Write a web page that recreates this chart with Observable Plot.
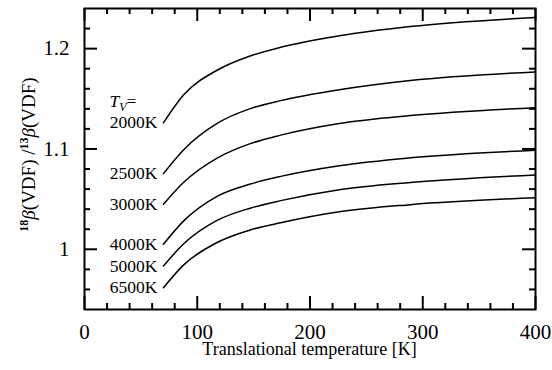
<!DOCTYPE html>
<html><head><meta charset="utf-8">
<script src="https://cdn.jsdelivr.net/npm/d3@7"></script>
<script src="https://cdn.jsdelivr.net/npm/@observablehq/plot@0.6"></script>
<style>body{margin:0;background:#fff} svg{display:block;background:#fff} svg text{font-family:'Liberation Serif','Times New Roman',serif !important}</style>
</head><body><div id="chart"></div>
<script>
// Translational temperature [K]
const temps = [70, 88, 118, 147, 174, 226, 289, 400];
// Vibrational temperature labels
const seriesLabels = ["2000K", "2500K", "3000K", "4000K", "5000K", "6500K"];
// Ratio 18β(VDF)/13β(VDF) per vibrational temperature
const tv2000 = [1.126, 1.154, 1.1787, 1.1927, 1.2014, 1.2128, 1.222, 1.231];
const tv2500 = [1.0754, 1.0993, 1.1257, 1.1402, 1.1482, 1.159, 1.1682, 1.1768];
const tv3000 = [1.0449, 1.0668, 1.0911, 1.1053, 1.1138, 1.1254, 1.1333, 1.1412];
const tv4000 = [1.005, 1.0283, 1.053, 1.065, 1.0727, 1.0833, 1.0912, 1.0987];
const tv5000 = [0.9834, 1.0055, 1.029, 1.041, 1.0485, 1.0594, 1.0666, 1.0741];
const tv6500 = [0.9617, 0.9845, 1.007, 1.0193, 1.0265, 1.0374, 1.0445, 1.0514];
// Axis ticks
const xTicks = [0, 100, 200, 300, 400];
const xTickLabels = ["0", "100", "200", "300", "400"];
const xMinorTicks = [20, 40, 60, 80, 120, 140, 160, 180, 220, 240, 260, 280, 320, 340, 360, 380];
const yTicks = [1, 1.1, 1.2];
const yTickLabels = ["1", "1.1", "1.2"];
const yMinorTicks = [0.96, 0.98, 1.02, 1.04, 1.06, 1.08, 1.12, 1.14, 1.16, 1.18, 1.22];
const xLabel = "Translational temperature [K]";

const seriesValues = [tv2000, tv2500, tv3000, tv4000, tv5000, tv6500];
const rows = seriesLabels.flatMap((s, i) => temps.map((T, j) => ({series: s, T, r: seriesValues[i][j]})));
const starts = seriesLabels.map((s, i) => ({series: s, T: temps[0], r: seriesValues[i][0]}));

const W = 552, H = 370, mL = 84, mR = 17, mT = 8, mB = 61;
const pw = W - mL - mR, ph = H - mT - mB;
const majorLen = 13, minorLen = 6;
const font = "Liberation Serif";

const chart = Plot.plot({
  width: W, height: H,
  marginLeft: mL, marginRight: mR, marginTop: mT, marginBottom: mB,
  style: {fontFamily: font, background: "#fff", color: "#000"},
  x: {domain: [0, 400], axis: null},
  y: {domain: [0.94, 1.24], axis: null},
  marks: [
    // inward ticks on all four sides
    Plot.tickX(xTicks, {x: d => d, insetTop: ph - majorLen, stroke: "#000", strokeWidth: 2}),
    Plot.tickX(xTicks, {x: d => d, insetBottom: ph - majorLen, stroke: "#000", strokeWidth: 2}),
    Plot.tickX(xMinorTicks, {x: d => d, insetTop: ph - minorLen, stroke: "#000", strokeWidth: 2}),
    Plot.tickX(xMinorTicks, {x: d => d, insetBottom: ph - minorLen, stroke: "#000", strokeWidth: 2}),
    Plot.tickY(yTicks, {y: d => d, insetRight: pw - majorLen, stroke: "#000", strokeWidth: 2}),
    Plot.tickY(yTicks, {y: d => d, insetLeft: pw - majorLen, stroke: "#000", strokeWidth: 2}),
    Plot.tickY(yMinorTicks, {y: d => d, insetRight: pw - minorLen, stroke: "#000", strokeWidth: 2}),
    Plot.tickY(yMinorTicks, {y: d => d, insetLeft: pw - minorLen, stroke: "#000", strokeWidth: 2}),
    // tick labels
    Plot.text(xTicks, {x: d => d, frameAnchor: "bottom", text: (d, i) => xTickLabels[i], lineAnchor: "top", dy: 15, fontSize: 21, fontFamily: font, fill: "#000"}),
    Plot.text(yTicks, {y: d => d, frameAnchor: "left", text: (d, i) => yTickLabels[i], textAnchor: "end", dx: -15, fontSize: 21, fontFamily: font, fill: "#000"}),
    Plot.line(rows, {x: "T", y: "r", z: "series", stroke: "#000", strokeWidth: 1.5, curve: "monotone-x"}),
    Plot.text(starts, {x: "T", y: "r", text: "series", textAnchor: "end", dx: -6, fontSize: 17.5, fontFamily: font, fill: "#000"}),
    Plot.text(starts.slice(0, 1), {x: "T", y: "r", text: () => "TV=", textAnchor: "start", dx: -54, dy: -21, fontSize: 17.5, fontFamily: font, fill: "#000"}),
    Plot.frame({stroke: "#000", strokeWidth: 2})
  ]
});
document.getElementById("chart").appendChild(chart);

const svg = d3.select(chart);
// rich text for T_V=
svg.selectAll("text").filter(function () { return this.textContent === "TV="; }).each(function () {
  const t = d3.select(this);
  t.text(null);
  t.append("tspan").attr("font-style", "italic").text("T");
  t.append("tspan").attr("font-style", "italic").attr("font-size", 12).attr("dy", 4).text("V");
  t.append("tspan").attr("dy", -4).text("=");
});
// x-axis title
svg.append("text")
  .attr("x", mL + pw / 2).attr("y", 355)
  .attr("text-anchor", "middle").attr("font-family", font).attr("font-size", 18).attr("fill", "#000")
  .text(xLabel);
// y-axis title with superscripts
const yl = svg.append("text")
  .attr("transform", `translate(35,${mT + ph / 2 - 4}) rotate(-90)`)
  .attr("text-anchor", "middle").attr("font-family", font).attr("font-size", 19).attr("fill", "#000");
yl.append("tspan").attr("font-weight", "bold").attr("font-size", 12).attr("dy", -7).text("18");
yl.append("tspan").attr("font-style", "italic").attr("dy", 7).text("β");
yl.append("tspan").text("(VDF) /");
yl.append("tspan").attr("font-weight", "bold").attr("font-size", 12).attr("dy", -7).text("13");
yl.append("tspan").attr("font-style", "italic").attr("dy", 7).text("β");
yl.append("tspan").text("(VDF)");
</script>
</body></html>
